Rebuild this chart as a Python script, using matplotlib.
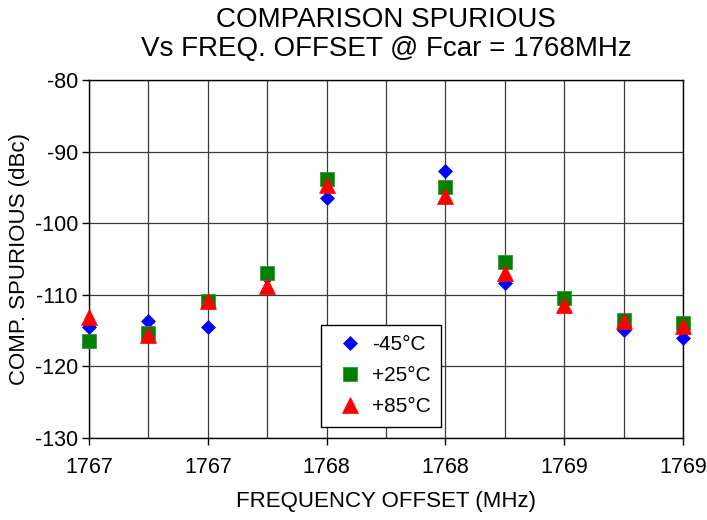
import numpy as np
import matplotlib
matplotlib.use('Agg')
import matplotlib.pyplot as plt
from matplotlib.ticker import FormatStrFormatter

# =====================================
# DATA
# =====================================
freq_mhz = [1767.0, 1767.2, 1767.4, 1767.6, 1767.8,
            1768.2, 1768.4, 1768.6, 1768.8, 1769.0]

spur_m45 = [-114.5, -113.7, -114.5, -107.5, -96.5,
            -92.7, -108.4, -111.0, -114.9, -116.1]
spur_p25 = [-116.4, -115.3, -110.9, -106.9, -93.8,
            -95.0, -105.4, -110.4, -113.5, -113.9]
spur_p85 = [-113.1, -115.6, -110.8, -108.8, -94.7,
            -96.2, -107.0, -111.4, -113.7, -114.4]

labels = ['-45°C', '+25°C', '+85°C']

# =====================================
# STYLE
# =====================================
plt.rcParams['font.family'] = ['Liberation Sans', 'DejaVu Sans']
plt.rcParams['axes.unicode_minus'] = False

fig = plt.figure(figsize=(7.07, 5.2), dpi=100)
ax = fig.add_axes([0.1259, 0.1577, 0.8402, 0.6885])

# series - blue first, red on top
ax.plot(freq_mhz, spur_m45, linestyle='none', marker='D', ms=7.6,
        color='#0000FF', mec='#0000FF', mew=0.5, label=labels[0],
        clip_on=False, zorder=3)
ax.plot(freq_mhz, spur_p25, linestyle='none', marker='s', ms=10,
        color='#008000', mec='#2e9a2e', mew=0.6, label=labels[1],
        clip_on=False, zorder=4)
ax.plot(freq_mhz, spur_p85, linestyle='none', marker='^', ms=11,
        color='#FF0000', mec='#FF0000', mew=0.5, label=labels[2],
        clip_on=False, zorder=5)

# axes limits / ticks (major every 2nd gridline, labels rounded like Excel)
x0, x1 = freq_mhz[0], freq_mhz[-1]
ax.set_xlim(x0, x1)
ax.set_ylim(-130, -80)
ax.set_xticks(np.linspace(x0, x1, 6))
ax.set_xticks(np.linspace(x0, x1, 11), minor=True)
ax.xaxis.set_major_formatter(FormatStrFormatter('%.0f'))
ax.set_yticks(np.arange(-130, -79, 10))

ax.tick_params(axis='both', which='major', direction='out', length=5,
               width=1, labelsize=15.5, color='black')
ax.tick_params(axis='x', which='major', pad=9)
ax.tick_params(axis='y', which='major', pad=3)
ax.tick_params(axis='x', which='minor', length=0)

# grid lines
ax.grid(True, which='both', axis='x', color='#3a3a3a', lw=0.9)
ax.grid(True, which='major', axis='y', color='#3a3a3a', lw=0.9)
ax.set_axisbelow(True)

for sp in ax.spines.values():
    sp.set_color('black')
    sp.set_linewidth(1.0)

# labels
ax.set_xlabel('FREQUENCY OFFSET (MHz)', fontsize=16, labelpad=9)
ax.set_ylabel('COMP. SPURIOUS (dBc)', fontsize=16, labelpad=3)

fig.text(0.546, 0.9606, 'COMPARISON SPURIOUS', fontsize=20,
         ha='center', va='center')
fig.text(0.546, 0.9067, 'Vs FREQ. OFFSET @ Fcar = 1768MHz', fontsize=20,
         ha='center', va='center')

# legend
leg = ax.legend(loc='lower left', bbox_to_anchor=(0.39, 0.031),
                borderaxespad=0, fontsize=15, frameon=True, fancybox=False,
                edgecolor='black', framealpha=1, handlelength=1.8,
                handletextpad=0.15, labelspacing=0.58, borderpad=0.5,
                numpoints=1)
leg.get_frame().set_linewidth(1.0)
leg.set_zorder(6)

plt.savefig('out.png', dpi=100)
plt.close()
